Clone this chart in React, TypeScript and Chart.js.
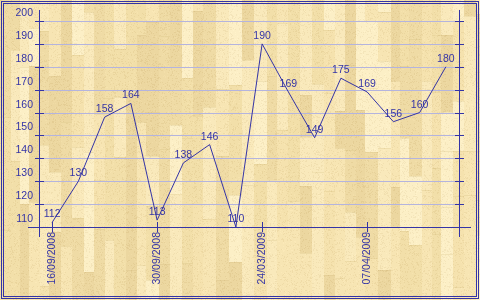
import React, { useEffect, useRef } from 'react';
import { Chart, registerables } from 'chart.js';

Chart.register(...registerables);

const categories = ['16/09/2008', '', '', '', '30/09/2008', '', '', '', '24/03/2009', '', '', '', '07/04/2009', '', '', ''];
const values = [112, 130, 158, 164, 113, 138, 146, 110, 190, 169, 149, 175, 169, 156, 160, 180];
const yTickValues = [110, 120, 130, 140, 150, 160, 170, 180, 190, 200];

const BLUE = '#3434a6';
const GRID = '#b4b4de';
const FONT = '10.5px "Liberation Sans", Arial, sans-serif';

function makeRng(seed: number) {
  let s = seed >>> 0;
  return () => {
    s = (Math.imul(s, 1664525) + 1013904223) >>> 0;
    return s / 4294967296;
  };
}

const woodPlugin = {
  id: 'woodBackground',
  beforeDraw(chart: any) {
    const ctx: CanvasRenderingContext2D = chart.ctx;
    const W = chart.width;
    const H = chart.height;
    const r = makeRng(98765);
    const palette = ['#f5e2ae', '#efdba5', '#f9e9bb', '#f2dfa9', '#fcefc6', '#ecd7a0', '#f7e5b3'];
    ctx.save();
    ctx.fillStyle = '#f3e0ab';
    ctx.fillRect(0, 0, W, H);
    let x = 0;
    while (x < W) {
      const w = 9 + Math.floor(r() * 5);
      let y = -Math.floor(r() * 90);
      while (y < H) {
        const h = 35 + Math.floor(r() * 110);
        ctx.fillStyle = palette[Math.floor(r() * palette.length)];
        ctx.fillRect(x, y, w, h);
        ctx.fillStyle = 'rgba(205,180,120,0.22)';
        ctx.fillRect(x, y, w, 1);
        y += h;
      }
      x += w;
    }
    const img = ctx.getImageData(0, 0, W, H);
    const d = img.data;
    for (let i = 0; i < d.length; i += 4) {
      const v = r();
      if (v < 0.15) {
        d[i] -= 8; d[i + 1] -= 10; d[i + 2] -= 12;
      } else if (v > 0.94) {
        d[i] = Math.min(255, d[i] + 4); d[i + 1] = Math.min(255, d[i + 1] + 4); d[i + 2] = Math.min(255, d[i + 2] + 5);
      }
    }
    ctx.putImageData(img, 0, 0);
    ctx.restore();
  },
  beforeDatasetsDraw(chart: any) {
    const ctx: CanvasRenderingContext2D = chart.ctx;
    const ys = chart.scales.y;
    const area = chart.chartArea;
    const left = Math.round(area.left);
    const right = Math.round(area.right);
    ctx.save();
    ctx.fillStyle = GRID;
    yTickValues.forEach((v) => {
      const ty = Math.round(ys.getPixelForValue(v));
      ctx.fillRect(left, ty, right - left, 1);
    });
    ctx.restore();
  },
  afterDatasetsDraw(chart: any) {
    const ctx: CanvasRenderingContext2D = chart.ctx;
    const xs = chart.scales.x;
    const ys = chart.scales.y;
    const area = chart.chartArea;
    const left = Math.round(area.left);
    const right = Math.round(area.right);
    const bottom = Math.round(ys.getPixelForValue(110));
    ctx.save();
    ctx.fillStyle = BLUE;
    ctx.fillRect(left, 10, 1, bottom);
    ctx.fillRect(right, 10, 1, bottom);
    ctx.fillRect(left - 11, bottom, right - left + 23, 1);
    ctx.font = FONT;
    ctx.textAlign = 'right';
    ctx.textBaseline = 'alphabetic';
    yTickValues.forEach((v) => {
      const ty = Math.round(ys.getPixelForValue(v));
      ctx.fillRect(left - 4, ty, 9, 1);
      ctx.fillRect(right - 4, ty, 9, 1);
      ctx.fillText(String(v), left - 6, ty - 5);
    });
    categories.forEach((lab, i) => {
      if (!lab) return;
      const tx = Math.round(xs.getPixelForValue(i));
      ctx.fillRect(tx, bottom - 5, 1, 10);
      ctx.save();
      ctx.translate(tx + 0.5, bottom + 5);
      ctx.rotate(-Math.PI / 2);
      ctx.textAlign = 'right';
      ctx.textBaseline = 'middle';
      ctx.fillText(lab, 0, 0);
      ctx.restore();
    });
    ctx.textAlign = 'center';
    ctx.textBaseline = 'alphabetic';
    values.forEach((v, i) => {
      const px = xs.getPixelForValue(i);
      const py = ys.getPixelForValue(v);
      ctx.fillText(String(v), px, py - 5);
    });
    ctx.restore();
  },
  afterDraw(chart: any) {
    const ctx: CanvasRenderingContext2D = chart.ctx;
    const W = chart.width;
    const H = chart.height;
    ctx.save();
    ctx.strokeStyle = BLUE;
    ctx.lineWidth = 1;
    ctx.strokeRect(1.5, 1.5, W - 3, H - 3);
    ctx.strokeRect(3.5, 3.5, W - 7, H - 7);
    ctx.restore();
  },
};

export default function App() {
  const ref = useRef<HTMLCanvasElement | null>(null);
  useEffect(() => {
    if (!ref.current) return;
    const chart = new Chart(ref.current, {
      type: 'line',
      data: {
        labels: categories,
        datasets: [
          {
            data: values,
            borderColor: BLUE,
            borderWidth: 1,
            pointRadius: 0,
            tension: 0,
            fill: false,
          },
        ],
      },
      options: {
        responsive: false,
        animation: false,
        devicePixelRatio: 1,
        layout: { padding: { left: 39, right: 21, top: 21, bottom: 73 } },
        plugins: { legend: { display: false }, tooltip: { enabled: false } },
        scales: {
          x: {
            type: 'category',
            offset: true,
            grid: { display: false, drawTicks: false },
            border: { display: false },
            ticks: { display: false },
          },
          y: {
            min: 110,
            max: 200,
            ticks: { display: false, stepSize: 10 },
            grid: { display: false, drawTicks: false },
            border: { display: false },
          },
        },
      },
      plugins: [woodPlugin],
    });
    return () => chart.destroy();
  }, []);
  return (
    <div style={{ position: 'absolute', left: 0, top: 0, width: 480, height: 300 }}>
      <canvas ref={ref} width={480} height={300} style={{ display: 'block' }} />
    </div>
  );
}
